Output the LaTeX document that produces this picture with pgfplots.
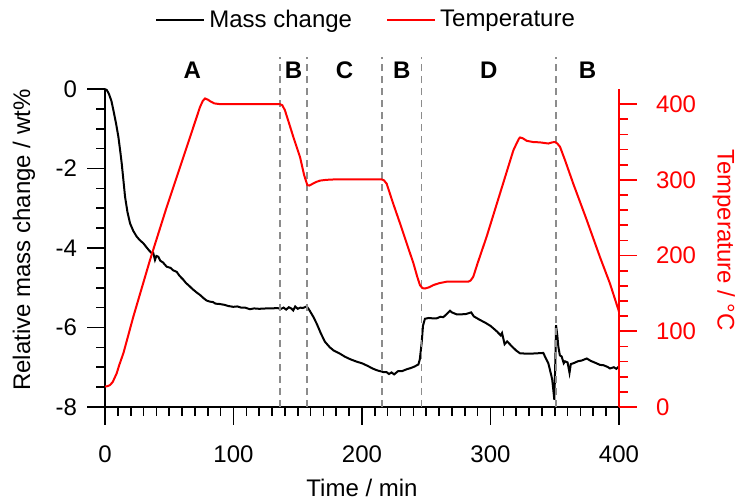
\documentclass[border=0pt]{standalone}
\usepackage{fontspec}
\setmainfont{Liberation Sans}
\usepackage{pgfplots}
\pgfplotsset{compat=1.18}
\definecolor{dashgray}{RGB}{140,140,140}
\begin{document}
\begin{tikzpicture}
\pgfplotsset{
  every axis/.append style={
    width=257pt, height=159pt, scale only axis,
    xmin=0, xmax=400,
    major tick length=9pt, minor tick length=4.5pt,
    every tick/.style={line width=0.8pt},
    axis line style={line width=0.8pt, -},
    font=\fontsize{12}{14}\selectfont,
  }
}
\begin{axis}[
  ymin=-8, ymax=0,
  axis x line*=bottom, axis y line*=left,
  tick align=outside,
  xtick={0,100,200,300,400}, xticklabels={0,100,200,300,400},
  minor x tick num=9,
  ytick={-8,-6,-4,-2,0}, yticklabels={-8,-6,-4,-2,0},
  minor y tick num=3,
  xticklabel style={yshift=-7pt},
  yticklabel style={xshift=-1.5pt},
  clip=false,
  xlabel={Time / min},
  ylabel={Relative mass change / wt\%},
  xlabel style={at={(axis description cs:0.5,-0.28)}, anchor=base, inner sep=0pt},
  ylabel style={at={(axis description cs:-0.1576,0.525)}, anchor=center, rotate=0, inner sep=0pt},
  legend style={at={(axis description cs:0.51,1.217)}, anchor=center, draw=none, fill=none,
    inner sep=0pt, /tikz/every even column/.append style={column sep=15pt}},
  legend columns=2,
  legend image code/.code={\draw[#1] (0pt,0pt) -- (24pt,0pt);},
]
\path (rel axis cs:-0.2043,-0.2893) rectangle (rel axis cs:1.2335,1.2799);
\addplot[black, line width=1pt] coordinates {
(0,0) (1.5,-0.03) (3,-0.12) (5,-0.3) (6.5,-0.53) (8.5,-0.85) (10.4,-1.2) (12,-1.6)
(13,-1.87) (14.5,-2.35) (15.6,-2.71) (17.5,-3.1) (19.5,-3.38) (22,-3.57) (24.6,-3.71)
(27,-3.8) (29.8,-3.88) (32,-3.97) (34,-4.05) (36.3,-4.13) (37.5,-4.12) (38.9,-4.30)
(40,-4.2) (41.5,-4.22) (43,-4.32) (45,-4.36) (48,-4.47) (51,-4.5) (53,-4.56) (55.8,-4.6)
(58,-4.7) (61,-4.8) (63,-4.88) (66.1,-4.97) (68,-5.03) (71,-5.11) (73.9,-5.18) (77,-5.27)
(79,-5.32) (81.7,-5.35) (84,-5.36) (86,-5.4) (89.5,-5.41) (93,-5.43) (96,-5.46)
(99.8,-5.48) (103,-5.47) (106,-5.5) (109,-5.5) (112.8,-5.54) (116,-5.52) (120,-5.53)
(125.8,-5.52) (130,-5.52) (134,-5.51) (137,-5.53) (139,-5.5) (141,-5.55) (143,-5.49)
(145,-5.52) (146.5,-5.57) (148,-5.47) (150,-5.53) (152,-5.5) (154,-5.51) (157,-5.47)
(159,-5.56) (162.1,-5.73) (165,-5.92) (168,-6.15) (171.2,-6.36) (175,-6.5) (178,-6.58)
(182.9,-6.66) (187,-6.74) (191,-6.8) (195.9,-6.86) (200,-6.9) (204,-6.96) (208.8,-7.04)
(212,-7.08) (216.6,-7.12) (219,-7.12) (221,-7.17) (223,-7.13) (225,-7.18) (228,-7.1)
(231,-7.1) (234.8,-7.05) (238,-7.02) (241,-6.98) (243.9,-6.93) (245,-6.8) (246.4,-6.40)
(247.5,-5.95) (249,-5.78) (252,-5.76) (255,-5.77) (258.1,-5.77) (261,-5.73) (263.3,-5.74)
(266,-5.66) (268.5,-5.58) (270,-5.62) (273.7,-5.67) (277,-5.67) (281,-5.66) (285,-5.62)
(287,-5.72) (291.8,-5.81) (296,-5.88) (300,-5.96) (302.2,-6.02) (305,-6.1) (308,-6.2)
(309,-6.14) (311,-6.42) (313,-6.35) (316.5,-6.47) (320,-6.58) (323,-6.65) (330,-6.66)
(336,-6.65) (341.1,-6.64) (342.4,-6.73) (345,-6.9) (346.3,-7.07) (348,-7.3) (349.7,-7.82)
(350.5,-6.8) (351,-5.94) (352,-6.2) (352.8,-6.48) (354,-6.7) (355.4,-6.73) (357,-6.9)
(358,-6.85) (360,-6.88) (361.5,-7.14) (362.5,-6.92) (364.5,-6.9) (368,-6.85) (371,-6.83)
(374.9,-6.78) (378,-6.84) (381,-6.88) (385.2,-6.94) (388,-6.95) (391,-6.99) (393,-7.03)
(396,-7.0) (398,-7.04) (400,-6.98)
};
\addlegendentry{Mass change}
\addlegendimage{red, line width=1pt}
\addlegendentry{Temperature}
\addplot[dashgray, line width=0.7pt, dash pattern=on 3.5pt off 2.5pt, forget plot] coordinates {(136.2,-8) (136.2,0.8)};
\addplot[dashgray, line width=0.7pt, dash pattern=on 3.5pt off 2.5pt, forget plot] coordinates {(157.2,-8) (157.2,0.8)};
\addplot[dashgray, line width=0.7pt, dash pattern=on 3.5pt off 2.5pt, forget plot] coordinates {(215.6,-8) (215.6,0.8)};
\addplot[dashgray, line width=0.7pt, dash pattern=on 3.5pt off 2.5pt, forget plot] coordinates {(246.5,-8) (246.5,0.8)};
\addplot[dashgray, line width=0.7pt, dash pattern=on 3.5pt off 2.5pt, forget plot] coordinates {(351,-8) (351,0.8)};
\node[font=\fontsize{12}{14}\selectfont\bfseries] at (axis cs:68,0.48) {A};
\node[font=\fontsize{12}{14}\selectfont\bfseries] at (axis cs:146.7,0.48) {B};
\node[font=\fontsize{12}{14}\selectfont\bfseries] at (axis cs:186.4,0.48) {C};
\node[font=\fontsize{12}{14}\selectfont\bfseries] at (axis cs:231,0.48) {B};
\node[font=\fontsize{12}{14}\selectfont\bfseries] at (axis cs:298.7,0.48) {D};
\node[font=\fontsize{12}{14}\selectfont\bfseries] at (axis cs:375.5,0.48) {B};
\end{axis}
\begin{axis}[
  ymin=0, ymax=420,
  axis x line=none, axis y line*=right,
  tick align=outside,
  ytick={0,100,200,300,400}, yticklabels={0,100,200,300,400},
  minor y tick num=4,
  y axis line style={red},
  ytick style={red},
  yticklabel style={red, xshift=6pt},
  ylabel={Temperature / °C},
  ylabel style={red, at={(axis description cs:1.204,0.525)}, anchor=center, rotate=180, inner sep=0pt},
]
\addplot[red, line width=1pt] coordinates {
(0,27) (2,27.5) (3.9,29) (6,33) (9.1,44.5) (11,55) (14.3,71) (18,94) (22,119) (35,194)
(48,264) (61,330) (73.9,396) (76,404) (77.8,407.5) (80,406) (81.7,404) (85,401)
(89.5,400) (136.2,400) (138,398.5) (140,392) (143,376) (146.5,357) (151.8,330)
(155,306) (157.5,293) (159,292.5) (160.7,294) (164,297) (167.3,299) (172,300)
(177.7,300.5) (215.3,300.5) (217,299.5) (219.2,295) (224,270) (229.6,242.5) (235,215)
(240,190) (243,172) (245.1,161) (247,157) (249,156.5) (252,158) (255.5,161) (260,163.5)
(265.9,165.5) (282.7,165.5) (284.5,167) (286.6,172) (290,190) (297,225) (307.4,282)
(317.8,339) (320,347) (322,354) (323,356) (325,355) (328.2,351.6) (333,350) (338.5,349.5)
(345,348) (348,349.5) (350.2,350) (352,348) (354.1,343.7) (358,326) (364.4,295)
(374.9,247) (385.2,198) (393,163) (400,126)
};
\end{axis}
\end{tikzpicture}
\end{document}
